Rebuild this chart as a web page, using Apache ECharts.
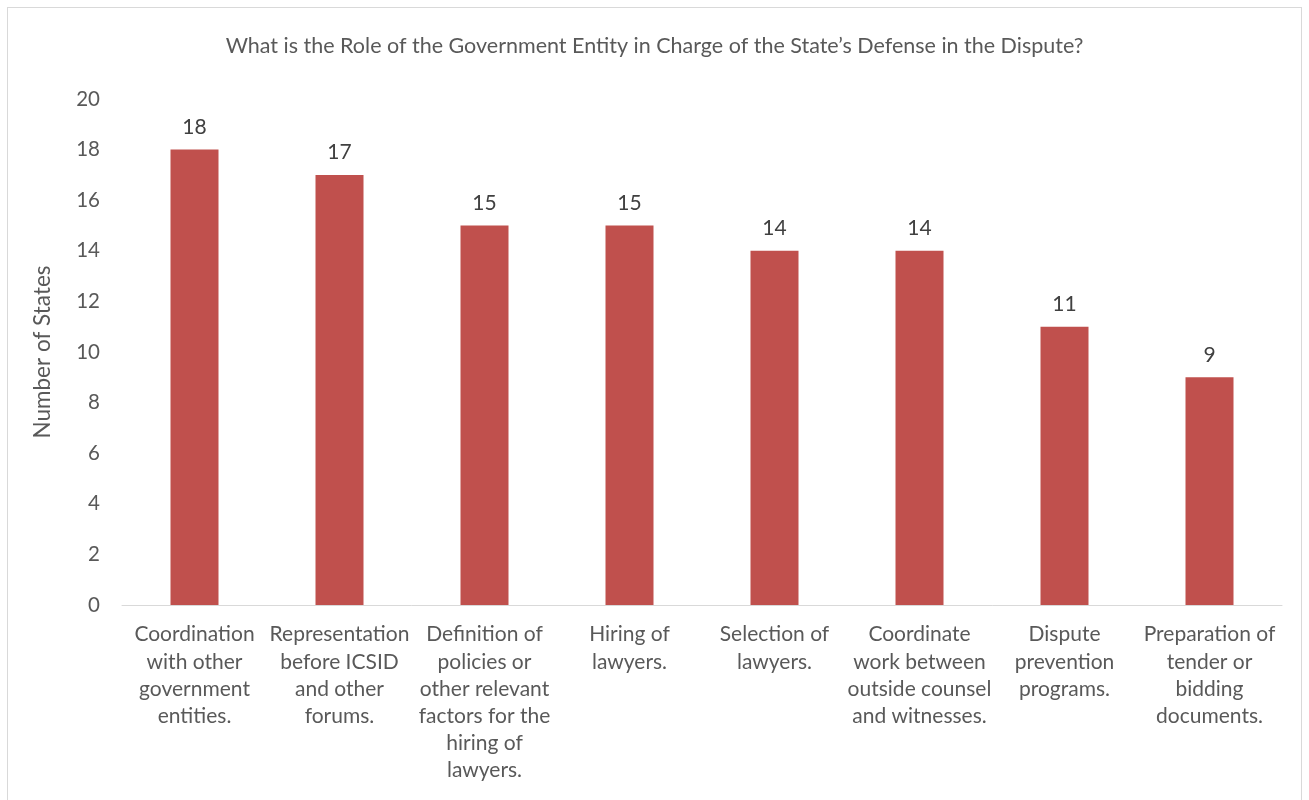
<!DOCTYPE html>
<html>
<head>
<meta charset="utf-8">
<script src="https://cdn.jsdelivr.net/npm/echarts@6/dist/echarts.min.js"></script>
<style>
  html, body { margin: 0; padding: 0; background: #fff; }
  .frame { position: absolute; left: 7px; top: 7px; width: 1295px; height: 800px; border: 1px solid #d9d9d9; box-sizing: border-box; }
  #chart { width: 1309px; height: 800px; position: absolute; left: 0; top: 0; }
</style>
</head>
<body>
<div class="frame"></div>
<div id="chart"></div>
<script>
// categories and values
const categories = [
  'Coordination\nwith other\ngovernment\nentities.',
  'Representation\nbefore ICSID\nand other\nforums.',
  'Definition of\npolicies or\nother relevant\nfactors for the\nhiring of\nlawyers.',
  'Hiring of\nlawyers.',
  'Selection of\nlawyers.',
  'Coordinate\nwork between\noutside counsel\nand witnesses.',
  'Dispute\nprevention\nprograms.',
  'Preparation of\ntender or\nbidding\ndocuments.'
]
const states = [18, 17, 15, 15, 14, 14, 11, 9]

const chart = echarts.init(document.getElementById('chart'))
const font = 'Lato, "Open Sans", sans-serif'

const option = {
  backgroundColor: 'transparent',
  animation: false,
  title: {
    text: 'What is the Role of the Government Entity in Charge of the State\u2019s Defense in the Dispute?',
    left: 'center',
    top: 30,
    textStyle: { fontFamily: font, fontSize: 21.5, fontWeight: 'normal', color: '#595959' }
  },
  grid: { left: 122, right: 27, top: 99, bottom: 195 },
  xAxis: {
    type: 'category',
    data: categories,
    axisLine: { lineStyle: { color: '#d9d9d9', width: 1 } },
    axisTick: { show: false },
    axisLabel: {
      interval: 0,
      margin: 16,
      fontFamily: font,
      fontSize: 21,
      lineHeight: 27.2,
      color: '#595959',
      align: 'center'
    }
  },
  yAxis: {
    type: 'value',
    min: 0,
    max: 20,
    interval: 2,
    name: 'Number of States',
    nameLocation: 'middle',
    nameGap: 68,
    nameTextStyle: { fontFamily: font, fontSize: 22.5, color: '#595959' },
    axisLine: { show: false },
    axisTick: { show: false },
    splitLine: { show: false },
    axisLabel: { fontFamily: font, fontSize: 20.5, color: '#595959', margin: 22 }
  },
  series: [{
    type: 'bar',
    data: states,
    barWidth: 48,
    itemStyle: { color: '#c0504d' },
    label: {
      show: true,
      position: 'top',
      distance: 12,
      fontFamily: font,
      fontSize: 21,
      color: '#404040'
    }
  }]
}

chart.setOption(option)
</script>
</body>
</html>
